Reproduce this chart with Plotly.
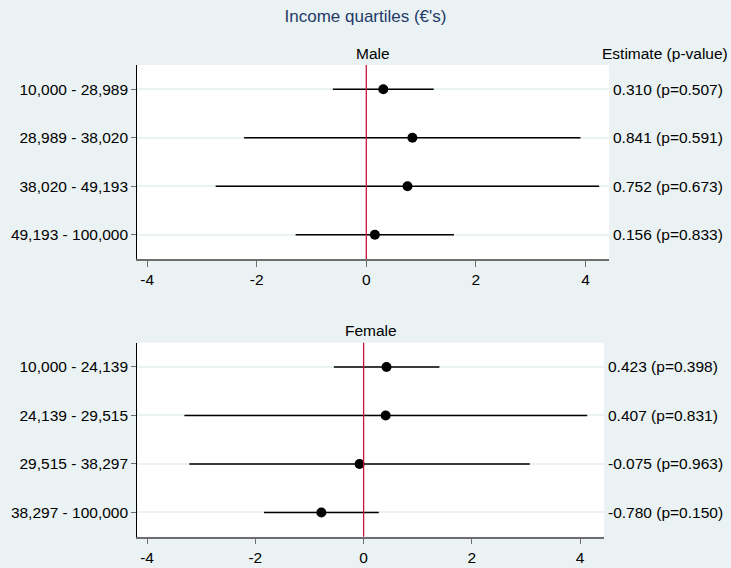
import plotly.graph_objects as go

# Income bands (quartiles) for each sex
male_bands = ["10,000 - 28,989", "28,989 - 38,020", "38,020 - 49,193", "49,193 - 100,000"]
female_bands = ["10,000 - 24,139", "24,139 - 29,515", "29,515 - 38,297", "38,297 - 100,000"]

# Point estimates, 95% CI bounds and p-values
male_est = [0.310, 0.841, 0.752, 0.156]
male_lo = [-0.61, -2.23, -2.75, -1.29]
male_hi = [1.23, 3.91, 4.25, 1.60]
male_p = [0.507, 0.591, 0.673, 0.833]

female_est = [0.423, 0.407, -0.075, -0.780]
female_lo = [-0.55, -3.31, -3.22, -1.84]
female_hi = [1.40, 4.13, 3.07, 0.28]
female_p = [0.398, 0.831, 0.963, 0.150]

x_ticks = [-4, -2, 0, 2, 4]

W, H = 731, 568
BG = "#EAF2F3"
FONT = "Liberation Sans, Arial, sans-serif"
FS = 15.5
REF_RED = "#C8143C"

fig = go.Figure()

panels = [
    dict(name="Male", bands=male_bands, est=male_est, lo=male_lo, hi=male_hi, p=male_p,
         xa="x", ya="y", left=137.3, right=609, top=65, bottom=259, xr=[-4.18, 4.43]),
    dict(name="Female", bands=female_bands, est=female_est, lo=female_lo, hi=female_hi, p=female_p,
         xa="x2", ya="y2", left=137.3, right=604, top=342.7, bottom=536.7, xr=[-4.18, 4.44]),
]

annotations = []
shapes = []
for k, pn in enumerate(panels):
    rows = list(range(1, len(pn["bands"]) + 1))
    cx, cy = [], []
    for r, lo, hi in zip(rows, pn["lo"], pn["hi"]):
        cx += [lo, hi, None]
        cy += [r, r, None]
    fig.add_trace(go.Scatter(x=cx, y=cy, mode="lines", line=dict(color="black", width=1.6),
                             xaxis=pn["xa"], yaxis=pn["ya"], showlegend=False, hoverinfo="skip"))
    fig.add_trace(go.Scatter(x=pn["est"], y=rows, mode="markers",
                             marker=dict(color="black", size=10),
                             xaxis=pn["xa"], yaxis=pn["ya"], showlegend=False))

    # zero reference line
    shapes.append(dict(type="line", xref=pn["xa"], yref=pn["ya"] + " domain",
                       x0=0, x1=0, y0=0, y1=1, line=dict(color=REF_RED, width=1.3), layer="above"))

    # estimate labels on the right
    for r, e, p in zip(rows, pn["est"], pn["p"]):
        annotations.append(dict(xref="paper", yref=pn["ya"], x=(pn["right"] + 2) / W, y=r,
                                xanchor="left", yanchor="middle", showarrow=False,
                                text=f"{e:.3f} (p={p:.3f})",
                                font=dict(family=FONT, size=FS, color="black")))

    # panel subtitle
    annotations.append(dict(xref="paper", yref="paper", x=(pn["left"] + pn["right"]) / 2 / W,
                            y=1 - (pn["top"] - 12) / H, xanchor="center", yanchor="middle",
                            showarrow=False, text=pn["name"],
                            font=dict(family=FONT, size=FS, color="black")))

    xkey = "xaxis" if k == 0 else "xaxis2"
    ykey = "yaxis" if k == 0 else "yaxis2"
    fig.update_layout(**{
        xkey: dict(domain=[pn["left"] / W, pn["right"] / W], range=pn["xr"],
                   anchor=pn["ya"], tickvals=x_ticks, ticktext=[str(t) for t in x_ticks],
                   showgrid=False, zeroline=False, showline=True, linecolor="#6E6E6E",
                   linewidth=1.5, ticks="outside", ticklen=6, tickcolor="#6E6E6E",
                   tickfont=dict(family=FONT, size=FS, color="black")),
        ykey: dict(domain=[1 - pn["bottom"] / H, 1 - pn["top"] / H], range=[4.5, 0.5],
                   anchor=pn["xa"], tickvals=rows, ticktext=pn["bands"],
                   showgrid=True, gridcolor=BG, gridwidth=1.5, zeroline=False,
                   showline=True, linecolor="black", linewidth=1.2,
                   ticks="outside", ticklen=5, tickcolor="#6E6E6E",
                   tickfont=dict(family=FONT, size=FS, color="black")),
    })

annotations.append(dict(xref="paper", yref="paper", x=730 / W, y=1 - 53 / H,
                        xanchor="right", yanchor="middle", showarrow=False,
                        text="Estimate (p-value)", font=dict(family=FONT, size=FS, color="black")))

fig.update_layout(
    width=W, height=H,
    margin=dict(l=0, r=0, t=0, b=0),
    paper_bgcolor=BG, plot_bgcolor="white",
    title=dict(text="Income quartiles (€'s)", x=0.5, xanchor="center",
               y=1 - 16 / H, yanchor="middle",
               font=dict(family=FONT, size=17, color="#1F3A68")),
    annotations=annotations, shapes=shapes,
)

fig.write_html("out.html")
